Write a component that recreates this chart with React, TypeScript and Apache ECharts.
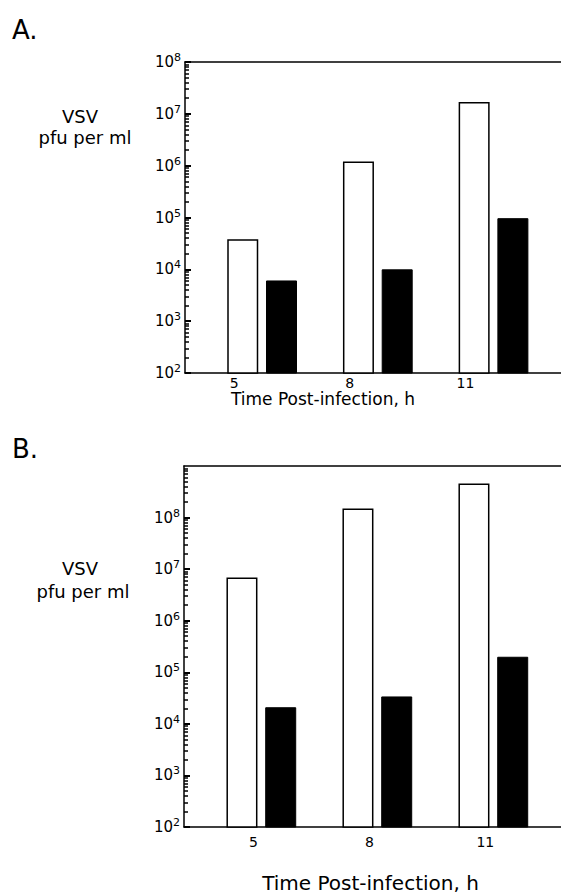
import React, { useEffect, useRef } from "react";
import * as echarts from "echarts";

// ---- data ----
const timePoints = [5, 8, 11];
const openA = [3.8e4, 1.2e6, 1.7e7];
const filledA = [6.1e3, 1.0e4, 9.7e4];
const openB = [6.9e6, 1.5e8, 4.6e8];
const filledB = [2.1e4, 3.4e4, 2.0e5];
const decadesA = [2, 3, 4, 5, 6, 7, 8];
const decadesB = [2, 3, 4, 5, 6, 7, 8, 9];
const xTitle = "Time Post-infection, h";
const yTitle1 = "VSV";
const yTitle2 = "pfu per ml";

const FONT = '"DejaVu Sans", sans-serif';
const BLACK = "#000";

function minorTicks(decades: number[]) {
  const out: number[] = [];
  for (let i = 0; i < decades.length - 1; i++) {
    for (let k = 2; k <= 9; k++) out.push(decades[i] + Math.log10(k));
  }
  return out;
}

const rich = {
  b: { fontSize: 15, lineHeight: 20, fontFamily: FONT, color: BLACK },
  s: { fontSize: 11, lineHeight: 11, verticalAlign: "top", fontFamily: FONT, color: BLACK },
};

function yFmt(v: number) {
  const e = Math.round(Math.log10(v));
  return `{b|10}{s|${e}}`;
}

const line = { show: true, onZero: false, lineStyle: { color: BLACK, width: 1.5 } };

type PanelCfg = {
  gi: number;
  decades: number[];
  labelSize: number;
  labelMargin: number;
  labelShift: number;
  nameSize: number;
  nameGap: number;
  nameShift: number;
  hideMax: boolean;
};

function panelAxes(c: PanelCfg) {
  const xMin = 3;
  const xMax = 12.75;
  const xs = [
    {
      type: "value",
      gridIndex: c.gi,
      position: "bottom",
      min: xMin,
      max: xMax,
      axisLine: line,
      axisTick: { show: false },
      splitLine: { show: false },
      axisLabel: {
        customValues: timePoints,
        fontSize: c.labelSize,
        fontFamily: FONT,
        color: BLACK,
        margin: c.labelMargin,
        padding: [0, c.labelShift, 0, 0],
      },
      name: xTitle,
      nameLocation: "middle",
      nameGap: c.nameGap,
      nameTextStyle: {
        fontSize: c.nameSize,
        fontFamily: FONT,
        color: BLACK,
        padding: [0, c.nameShift, 0, 0],
      },
    },
    {
      type: "value",
      gridIndex: c.gi,
      position: "top",
      min: xMin,
      max: xMax,
      axisLine: line,
      axisTick: { show: false },
      axisLabel: { show: false },
      splitLine: { show: false },
    },
  ];
  const lo = c.decades[0];
  const hi = c.decades[c.decades.length - 1];
  const ys = [
    {
      type: "log",
      logBase: 10,
      gridIndex: c.gi,
      position: "left",
      min: Math.pow(10, lo),
      max: Math.pow(10, hi),
      splitNumber: hi - lo,
      axisLine: line,
      axisTick: { show: true, inside: true, length: 6, lineStyle: { color: BLACK, width: 2 } },
      splitLine: { show: false },
      axisLabel: {
        formatter: yFmt,
        rich,
        margin: 4,
        showMaxLabel: !c.hideMax,
      },
    },
    {
      type: "value",
      gridIndex: c.gi,
      position: "left",
      min: lo,
      max: hi,
      axisLine: { show: false },
      axisLabel: { show: false },
      splitLine: { show: false },
      axisTick: {
        show: true,
        inside: true,
        length: 4,
        customValues: minorTicks(c.decades),
        lineStyle: { color: BLACK, width: 1.5 },
      },
    },
  ];
  return { xs, ys };
}

function barSeries(xi: number, yi: number, open: number[], filled: number[]) {
  return [
    {
      type: "bar",
      xAxisIndex: xi,
      yAxisIndex: yi,
      data: timePoints.map((t, i) => [t, open[i]]),
      barWidth: 31,
      barGap: "25%",
      clip: true,
      itemStyle: { color: "#fff", borderColor: BLACK, borderWidth: 1.5 },
    },
    {
      type: "bar",
      xAxisIndex: xi,
      yAxisIndex: yi,
      data: timePoints.map((t, i) => [t, filled[i]]),
      barWidth: 31,
      barGap: "25%",
      clip: true,
      itemStyle: { color: BLACK, borderColor: BLACK, borderWidth: 1 },
    },
  ];
}

export default function App() {
  const ref = useRef<HTMLDivElement>(null);
  useEffect(() => {
    if (!ref.current) return;
    const chart = echarts.init(ref.current, null, { renderer: "svg" });
    const A = panelAxes({
      gi: 0, decades: decadesA, labelSize: 14, labelMargin: 3, labelShift: 56,
      nameSize: 17, nameGap: 13, nameShift: 100, hideMax: false,
    });
    const B = panelAxes({
      gi: 1, decades: decadesB, labelSize: 14, labelMargin: 8, labelShift: 16,
      nameSize: 20, nameGap: 46, nameShift: 4, hideMax: true,
    });
    const textStyle = (size: number) => ({ font: `${size}px ${FONT}`, fill: BLACK });
    chart.setOption({
      animation: false,
      backgroundColor: "#fff",
      grid: [
        { left: 185, top: 62, width: 376, height: 311, containLabel: false },
        { left: 184, top: 466, width: 377, height: 362, containLabel: false },
      ],
      xAxis: [...A.xs, ...B.xs],
      yAxis: [...A.ys, ...B.ys],
      series: [...barSeries(0, 0, openA, filledA), ...barSeries(2, 2, openB, filledB)],
      graphic: [
        { type: "text", x: 12, y: 30, style: { text: "A.", ...textStyle(26), textAlign: "left", textVerticalAlign: "middle" } },
        { type: "text", x: 12, y: 449, style: { text: "B.", ...textStyle(26), textAlign: "left", textVerticalAlign: "middle" } },
        { type: "text", x: 80, y: 116, style: { text: yTitle1, ...textStyle(18), textAlign: "center", textVerticalAlign: "middle" } },
        { type: "text", x: 85, y: 137, style: { text: yTitle2, ...textStyle(18), textAlign: "center", textVerticalAlign: "middle" } },
        { type: "text", x: 80, y: 568, style: { text: yTitle1, ...textStyle(18), textAlign: "center", textVerticalAlign: "middle" } },
        { type: "text", x: 83, y: 591, style: { text: yTitle2, ...textStyle(18), textAlign: "center", textVerticalAlign: "middle" } },
      ],
    });
    return () => chart.dispose();
  }, []);
  return (
    <div
      ref={ref}
      style={{ position: "fixed", left: 0, top: 0, width: 561, height: 894, background: "#fff" }}
    />
  );
}
